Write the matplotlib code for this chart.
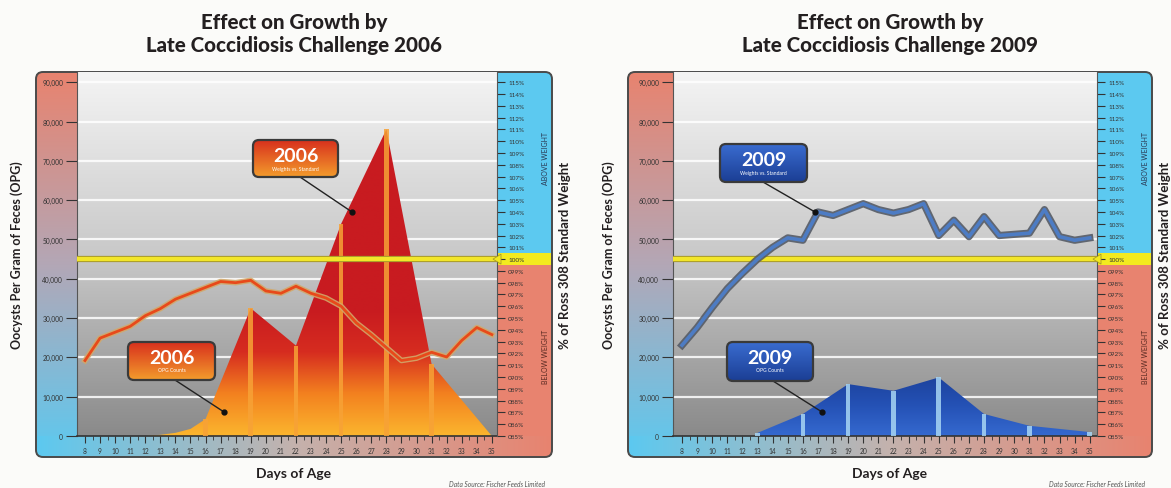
import matplotlib
matplotlib.use('Agg')
import matplotlib.pyplot as plt
import numpy as np
from matplotlib.patches import FancyBboxPatch, Polygon
from matplotlib.colors import LinearSegmentedColormap
import matplotlib.patheffects as pe

plt.rcParams['font.family'] = ['Lato', 'DejaVu Sans']

# ---- data ----
days = list(range(8, 36))

weight_2006 = [91.4, 93.3, 93.8, 94.3, 95.2, 95.8, 96.6, 97.1, 97.6, 98.1, 98.0, 98.2, 97.3, 97.1,
               97.7, 97.1, 96.7, 96.0, 94.6, 93.6, 92.5, 91.4, 91.6, 92.1, 91.7, 93.1, 94.2, 93.6]
weight_2009 = [92.7, 94.2, 95.9, 97.5, 98.8, 100.0, 101.0, 101.8, 101.6, 104.0, 103.7, 104.2, 104.7, 104.2,
               103.9, 104.2, 104.7, 102.0, 103.3, 101.9, 103.6, 102.0, 102.1, 102.2, 104.2, 101.9, 101.6, 101.8]

opg_days_2006 = [8, 12, 13, 14, 15, 16, 19, 22, 25, 28, 31, 35]
opg_2006 = [0, 0, 300, 800, 1800, 4300, 32500, 23000, 54000, 78000, 18300, 0]
bar_days_2006 = [16, 19, 22, 25, 28, 31]

opg_days_2009 = [13, 16, 19, 22, 25, 28, 31, 35]
opg_2009 = [800, 5600, 13200, 11500, 14900, 5600, 2600, 1000]
bar_days_2009 = [13, 16, 19, 22, 25, 28, 31, 35]

opg_ticks = list(range(0, 90001, 10000))
pct_ticks = list(range(85, 116))

W, H = 1171, 489
YTOP = 92600  # OPG value at top edge of plot area


def fx(x):
    return x / W


def fy(y):
    return 1 - y / H


def cmap_of(colors):
    return LinearSegmentedColormap.from_list('g', colors)


def grad(ax, extent, colors, horizontal=False, clip=None, zorder=1):
    arr = np.linspace(0, 1, 256)
    arr = arr.reshape(1, -1) if horizontal else arr.reshape(-1, 1)
    im = ax.imshow(arr, extent=extent, cmap=cmap_of(colors), aspect='auto',
                   origin='upper', zorder=zorder, interpolation='bilinear')
    if clip is not None:
        im.set_clip_path(clip)
    return im


fig = plt.figure(figsize=(W / 100, H / 100), dpi=100)
fig.patch.set_facecolor('#fbfbf9')

bg = fig.add_axes([0, 0, 1, 1], zorder=0)
bg.set_axis_off()
top = fig.add_axes([0, 0, 1, 1], zorder=10)
top.set_axis_off()
top.patch.set_alpha(0)

charts = [
    dict(year='2006', x0=36, x1=552, px0=77, px1=497, xlim=(7.47, 35.34),
         weight=weight_2006, od=opg_days_2006, ov=opg_2006, bd=bar_days_2006,
         fill=['#fbb52e', '#f3811f', '#d62c1f', '#c81b20'], vsat=32000, bar='#f7a236',
         line='#e8491a', edge='#d2a86a', lw=2.0, elw=4.0,
         box=['#d8301d', '#f39c2c'],
         boxes=[((128, 343, 215, 381), 'OPG Counts', (175, 381), (224, 413)),
                ((253, 141, 338, 178), 'Weights vs. Standard', (300, 178), (352, 213))]),
    dict(year='2009', x0=628, x1=1152, px0=673, px1=1097, xlim=(7.40, 35.48),
         weight=weight_2009, od=opg_days_2009, ov=opg_2009, bd=bar_days_2009,
         fill=['#3569cf', '#2552b6', '#1c429d'], vsat=15000, bar='#a8d6f4',
         line='#4d7cc4', edge='#555b66', lw=2.6, elw=5.2,
         box=['#3a6cd0', '#1b3e94'],
         boxes=[((720, 145, 807, 183), 'Weights vs. Standard', (763, 183), (815, 213)),
                ((727, 343, 813, 382), 'OPG Counts', (773, 382), (822, 413))]),
]

salmon = '#e8836f'
sky = '#5cc9f0'
ptop, pbot, band_bot = 73, 437, 458
y100 = pbot - 45000 / YTOP * (pbot - ptop)

for c in charts:
    x0, x1, px0, px1 = c['x0'], c['x1'], c['px0'], c['px1']
    # outer rounded frame with coloured panels
    frame = FancyBboxPatch((x0, ptop), x1 - x0, band_bot - ptop,
                           boxstyle='round,pad=0,rounding_size=7', fc='none', ec='none')
    bg.add_patch(frame)
    grad(bg, (x0, px0 + 2, band_bot, ptop), [salmon, '#b3a7b6', sky], clip=frame)
    grad(bg, (x0, x1, band_bot, pbot), [sky, '#c4b2ad', salmon], horizontal=True, clip=frame, zorder=2)
    r1 = bg.imshow([[0]], extent=(px1 - 2, x1, y100 - 6, ptop), cmap=cmap_of([sky, sky]), aspect='auto', zorder=1)
    r1.set_clip_path(frame)
    r2 = bg.imshow([[0]], extent=(px1 - 2, x1, band_bot, y100 + 6), cmap=cmap_of([salmon, salmon]), aspect='auto', zorder=1)
    r2.set_clip_path(frame)
    r3 = bg.imshow([[0]], extent=(px1 - 2, x1, y100 + 6, y100 - 6), cmap=cmap_of(['#f3ea1f', '#f3ea1f']), aspect='auto', zorder=1)
    r3.set_clip_path(frame)
    bg.add_patch(FancyBboxPatch((x0, ptop), x1 - x0, band_bot - ptop,
                                boxstyle='round,pad=0,rounding_size=7', fc='none', ec='#4a4a4a', lw=1.4, zorder=5))
    bg.text(x1 - 6, (ptop + y100) / 2 - 8, 'ABOVE WEIGHT', rotation=90, ha='center', va='center',
            fontsize=5, color='#2a3a55', zorder=6)
    bg.text(x1 - 6, (y100 + pbot) / 2 + 8, 'BELOW WEIGHT', rotation=90, ha='center', va='center',
            fontsize=5, color='#5a2a22', zorder=6)

    # main plot area
    ax = fig.add_axes([fx(px0), fy(pbot), fx(px1 - px0), (pbot - ptop) / H], zorder=2)
    ax.imshow(np.linspace(0, 1, 256).reshape(-1, 1), extent=(0, 1, 0, 1), transform=ax.transAxes,
              cmap=cmap_of(['#f4f4f4', '#c9c9c9', '#8a8a8a']), aspect='auto', origin='upper', zorder=0)
    for v in opg_ticks[1:]:
        ax.axhline(v, color='white', lw=1.6, alpha=0.85, zorder=1)

    # OPG area with gradient fill
    verts = list(zip(c['od'], c['ov'])) + [(c['od'][-1], 0), (c['od'][0], 0)]
    poly = Polygon(verts, closed=True, fc='none', ec='none')
    ax.add_patch(poly)
    vals = np.linspace(0, YTOP, 300)
    im = ax.imshow(np.clip(vals / c['vsat'], 0, 1).reshape(-1, 1), extent=(c['xlim'][0], c['xlim'][1], 0, YTOP),
                   origin='lower', cmap=cmap_of(c['fill']), vmin=0, vmax=1, aspect='auto', zorder=2)
    im.set_clip_path(poly)
    bh = [c['ov'][c['od'].index(d)] for d in c['bd']]
    ax.bar(c['bd'], bh, width=0.3, color=c['bar'], alpha=0.85, zorder=3)

    ax.axhline(45000, color='#f2e62a', lw=3, zorder=4,
               path_effects=[pe.Stroke(linewidth=4.5, foreground='#a89a2a'), pe.Normal()])

    ax.set_xlim(*c['xlim'])
    ax.set_ylim(0, YTOP)
    ax.set_yticks(opg_ticks)
    ax.set_yticklabels([f'{v:,}' for v in opg_ticks])
    ax.set_xticks(days)
    ax.set_xticklabels([str(d) for d in days])
    ax.set_xticks([d + 0.5 for d in days[:-1]], minor=True)
    ax.tick_params(axis='y', direction='out', length=8, width=0.8, labelsize=4.8, colors='#333', pad=2)
    ax.tick_params(axis='x', which='major', direction='out', length=5, width=0.8, labelsize=4.8, colors='#333', pad=3)
    ax.tick_params(axis='x', which='minor', direction='out', length=3, width=0.6, colors='#333')
    for s in ['top', 'right']:
        ax.spines[s].set_visible(False)
    ax.spines['left'].set_color('#555')
    ax.spines['bottom'].set_color('#333')
    ax.spines['bottom'].set_linewidth(1.2)

    # weight line on right axis
    ax2 = ax.twinx()
    ax2.set_zorder(3)
    ax2.plot(days, c['weight'], color=c['line'], lw=c['lw'], solid_joinstyle='round', zorder=5,
             path_effects=[pe.Stroke(linewidth=c['elw'], foreground=c['edge'], alpha=0.9), pe.Normal()])
    ax2.set_ylim(85, 85 + YTOP / 3000)
    ax2.set_yticks(pct_ticks)
    ax2.set_yticklabels([f'{p:03d}%' for p in pct_ticks])
    ax2.tick_params(axis='y', direction='out', length=6, width=0.8, labelsize=4.6, colors='#333', pad=2)
    for s in ['top', 'left', 'bottom']:
        ax2.spines[s].set_visible(False)
    ax2.spines['right'].set_color('#555')
    ax2.set_xlim(*c['xlim'])

    # yellow pointer into the right panel
    top.add_patch(Polygon([(px1 - 4, y100), (px1 + 4, y100 - 5), (px1 + 4, y100 + 5)], closed=True,
                          fc='#f3ea1f', ec='#a89a2a', lw=0.6))

    # callout boxes
    for (bx0, by0, bx1, by1), sub, start, dot in c['boxes']:
        top.plot([start[0], dot[0]], [start[1], dot[1]], color='#222', lw=1)
        top.plot(dot[0], dot[1], 'o', color='#111', ms=3.5)
        bx = FancyBboxPatch((bx0, by0), bx1 - bx0, by1 - by0, boxstyle='round,pad=0,rounding_size=6',
                            fc='none', ec='none')
        top.add_patch(bx)
        grad(top, (bx0, bx1, by1, by0), c['box'], clip=bx, zorder=2)
        top.add_patch(FancyBboxPatch((bx0, by0), bx1 - bx0, by1 - by0, boxstyle='round,pad=0,rounding_size=6',
                                     fc='none', ec='#3a3a3a', lw=1.6, zorder=3))
        top.text((bx0 + bx1) / 2, by0 + 15, c['year'], ha='center', va='center', fontsize=14,
                 fontweight='bold', color='white', zorder=4)
        top.text((bx0 + bx1) / 2, by0 + 28, sub, ha='center', va='center', fontsize=3.6,
                 color='white', zorder=4)

    cx = (x0 + x1) / 2
    fig.text(fx(cx), fy(34), 'Effect on Growth by\nLate Coccidiosis Challenge ' + c['year'], ha='center',
             va='center', fontsize=14.8, fontweight='black', color='#231f20', linespacing=1.2)
    fig.text(fx(x0 - 19), fy(255), 'Oocysts Per Gram of Feces (OPG)', rotation=90, ha='center', va='center',
             fontsize=9, fontweight='bold', color='#231f20')
    fig.text(fx(x1 + 13), fy(255), '% of Ross 308 Standard Weight', rotation=90, ha='center', va='center',
             fontsize=9.5, fontweight='bold', color='#231f20')
    fig.text(fx(cx), fy(474), 'Days of Age', ha='center', va='center', fontsize=10,
             fontweight='bold', color='#231f20')
    fig.text(fx(x1 - 7), fy(485), 'Data Source: Fischer Feeds Limited', ha='right', va='center',
             fontsize=4.8, style='italic', color='#555')

bg.set_xlim(0, W)
bg.set_ylim(H, 0)
top.set_xlim(0, W)
top.set_ylim(H, 0)

fig.savefig('out.png', dpi=100, facecolor=fig.get_facecolor())
